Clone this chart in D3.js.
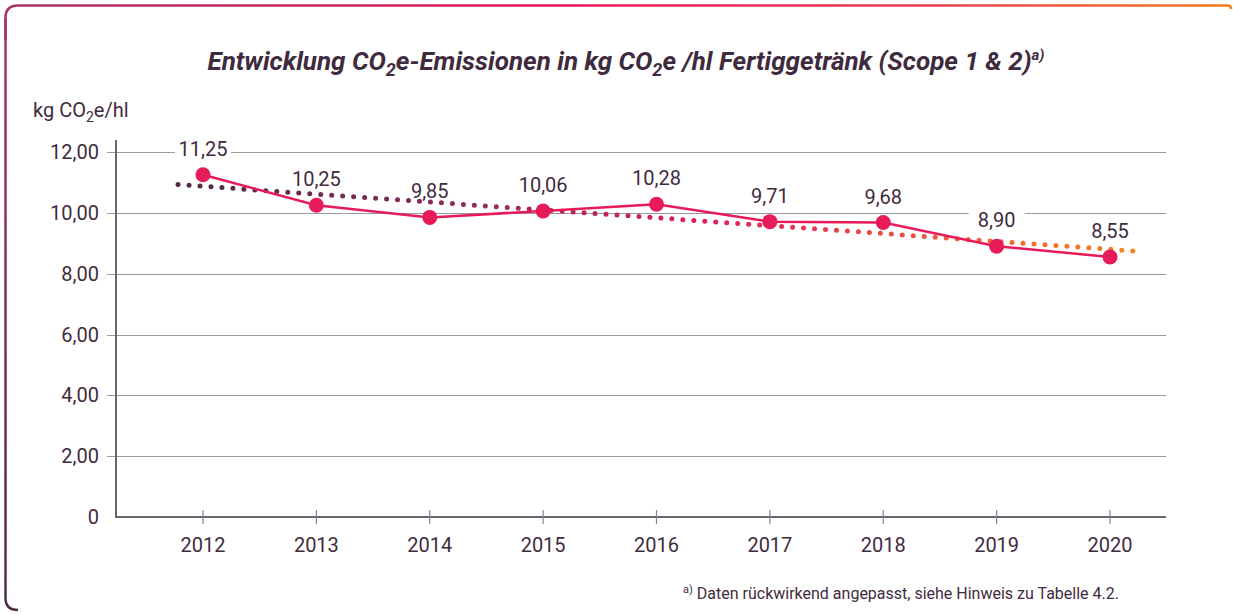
<!DOCTYPE html>
<html>
<head>
<meta charset="utf-8">
<script src="https://cdn.jsdelivr.net/npm/d3@7.9.0/dist/d3.min.js"></script>
<style>
  body { margin: 0; background: #fff; }
  svg { display: block; font-family: "Roboto", sans-serif; }
</style>
</head>
<body>
<svg id="chart" width="1233" height="614"></svg>
<script>
// data
const years = ['2012', '2013', '2014', '2015', '2016', '2017', '2018', '2019', '2020'];
const emissions = [11.25, 10.25, 9.85, 10.06, 10.28, 9.71, 9.68, 8.90, 8.55];
const yTicks = [0, 2, 4, 6, 8, 10, 12];

const textColor = '#3f2b3e';
const svg = d3.select('#chart');
const defs = svg.append('defs');

// frame gradients
const gTop = defs.append('linearGradient').attr('id', 'gTop');
gTop.append('stop').attr('offset', '0%').attr('stop-color', '#a8326a');
gTop.append('stop').attr('offset', '45%').attr('stop-color', '#e8195a');
gTop.append('stop').attr('offset', '75%').attr('stop-color', '#ea3c55');
gTop.append('stop').attr('offset', '100%').attr('stop-color', '#f47d1c');
const gLeft = defs.append('linearGradient').attr('id', 'gLeft')
  .attr('x1', 0).attr('y1', 0).attr('x2', 0).attr('y2', 1);
gLeft.append('stop').attr('offset', '0%').attr('stop-color', '#a8326a');
gLeft.append('stop').attr('offset', '100%').attr('stop-color', '#4b2e48');

svg.append('path').attr('d', 'M5.5,40 L5.5,18 Q5.5,5.5 18,5.5 L1228,5.5 Q1231,5.5 1231,9')
  .attr('fill', 'none').attr('stroke', 'url(#gTop)').attr('stroke-width', 2.5);
svg.append('path').attr('d', 'M5.5,18 L5.5,598 Q5.5,610 18,610')
  .attr('fill', 'none').attr('stroke', 'url(#gLeft)').attr('stroke-width', 2.5);

// scales
const x = d3.scalePoint().domain(years).range([203, 1110]);
const y = d3.scaleLinear().domain([0, 12]).range([517, 152]);
const axisLeft = 116, axisRight = 1166;

// gridlines
svg.append('g').selectAll('line').data(yTicks.filter(d => d > 0)).join('line')
  .attr('x1', axisLeft - 9).attr('x2', axisRight)
  .attr('y1', d => Math.round(y(d)) + 0.5).attr('y2', d => Math.round(y(d)) + 0.5)
  .attr('stroke', '#9b999c').attr('stroke-width', 1.2);

// y tick labels
svg.append('g').selectAll('text').data(yTicks).join('text')
  .attr('x', 99).attr('y', d => y(d) + 7)
  .attr('text-anchor', 'end').attr('font-size', 20).attr('fill', textColor)
  .text(d => d === 0 ? '0' : d3.format('.2f')(d).replace('.', ','));

// axes lines
svg.append('line').attr('x1', axisLeft).attr('x2', axisLeft).attr('y1', 140).attr('y2', 518)
  .attr('stroke', '#6e6470').attr('stroke-width', 2);
svg.append('line').attr('x1', axisLeft - 1).attr('x2', axisRight).attr('y1', 517).attr('y2', 517)
  .attr('stroke', '#6e6470').attr('stroke-width', 2);

// x ticks + labels
const xg = svg.append('g').selectAll('g').data(years).join('g')
  .attr('transform', d => `translate(${x(d)},0)`);
xg.append('line').attr('y1', 510).attr('y2', 524).attr('stroke', '#8a8290').attr('stroke-width', 1.2);
xg.append('text').attr('y', 552).attr('text-anchor', 'middle')
  .attr('font-size', 20).attr('fill', textColor).text(d => d);

const pts = years.map((yr, i) => [x(yr), y(emissions[i])]);
const labelGap = 19;

// white knock-out behind value labels (only over gridlines)
svg.append('g').selectAll('rect').data(pts).join('rect')
  .attr('x', d => d[0] - 28).attr('y', d => d[1] - labelGap - 20)
  .attr('width', 56).attr('height', 24).attr('fill', '#fff');

// linear trend of the series (dotted)
const idx = emissions.map((_, i) => i);
const mx = d3.mean(idx), my = d3.mean(emissions);
const slope = d3.sum(idx, i => (i - mx) * (emissions[i] - my)) / d3.sum(idx, i => (i - mx) ** 2);
const step = x.step();
const trendX = [x(years[0]) - 0.22 * step, x(years[years.length - 1]) + 0.24 * step];
const trendY = trendX.map(px => y(my + slope * ((px - x(years[0])) / step - mx)));

const gTrend = defs.append('linearGradient').attr('id', 'gTrend')
  .attr('gradientUnits', 'userSpaceOnUse')
  .attr('x1', trendX[0]).attr('x2', trendX[1]).attr('y1', 0).attr('y2', 0);
gTrend.append('stop').attr('offset', '0%').attr('stop-color', '#4f2a44');
gTrend.append('stop').attr('offset', '30%').attr('stop-color', '#8e2c5a');
gTrend.append('stop').attr('offset', '55%').attr('stop-color', '#e01f5c');
gTrend.append('stop').attr('offset', '80%').attr('stop-color', '#ee5a3c');
gTrend.append('stop').attr('offset', '100%').attr('stop-color', '#f5841c');

svg.append('path')
  .attr('d', d3.line()([[trendX[0], trendY[0]], [trendX[1], trendY[1]]]))
  .attr('fill', 'none').attr('stroke', 'url(#gTrend)')
  .attr('stroke-width', 5).attr('stroke-linecap', 'round')
  .attr('stroke-dasharray', '0 11');

// data line
svg.append('path').attr('d', d3.line()(pts))
  .attr('fill', 'none').attr('stroke', '#e61b58').attr('stroke-width', 2.5);
svg.append('g').selectAll('circle').data(pts).join('circle')
  .attr('cx', d => d[0]).attr('cy', d => d[1]).attr('r', 7.5).attr('fill', '#e61b58');

// value labels
svg.append('g').selectAll('text').data(pts).join('text')
  .attr('x', d => d[0]).attr('y', d => d[1] - labelGap)
  .attr('text-anchor', 'middle').attr('font-size', 20).attr('fill', textColor)
  .text((d, i) => d3.format('.2f')(emissions[i]).replace('.', ','));

// title
const title = svg.append('text').attr('x', 626).attr('y', 70).attr('text-anchor', 'middle')
  .attr('font-size', 26).attr('font-weight', 'bold').attr('font-style', 'italic').attr('fill', textColor);
title.append('tspan').text('Entwicklung CO');
title.append('tspan').attr('font-size', 18).attr('dy', 6).text('2');
title.append('tspan').attr('dy', -6).text('e-Emissionen in kg CO');
title.append('tspan').attr('font-size', 18).attr('dy', 6).text('2');
title.append('tspan').attr('dy', -6).text('e /hl Fertiggetränk (Scope 1 & 2)');
title.append('tspan').attr('font-size', 15).attr('dy', -10).text('a)');

// y unit label
const unit = svg.append('text').attr('x', 33).attr('y', 117).attr('font-size', 20).attr('fill', textColor);
unit.append('tspan').text('kg CO');
unit.append('tspan').attr('font-size', 14).attr('dy', 5).text('2');
unit.append('tspan').attr('dy', -5).text('e/hl');

// footnote
const note = svg.append('text').attr('x', 683).attr('y', 599).attr('font-size', 16).attr('fill', textColor);
note.append('tspan').attr('font-size', 11).attr('dy', -6).text('a)');
note.append('tspan').attr('dy', 6).text(' Daten rückwirkend angepasst, siehe Hinweis zu Tabelle 4.2.');
</script>
</body>
</html>
